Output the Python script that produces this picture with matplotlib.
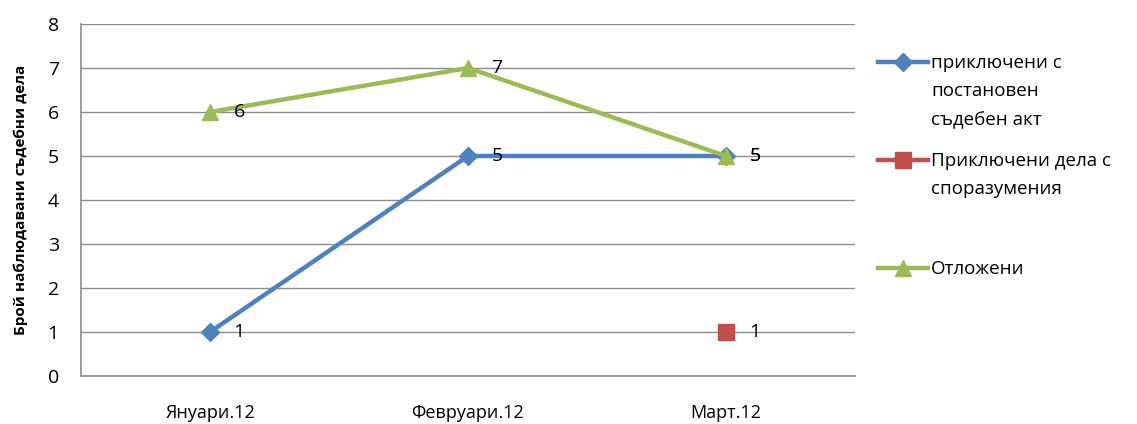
import numpy as np
import matplotlib
matplotlib.use("Agg")
import matplotlib.pyplot as plt
from matplotlib.lines import Line2D

plt.rcParams['font.family'] = ['Open Sans', 'DejaVu Sans']

# данни
months = ['Януари.12', 'Февруари.12', 'Март.12']
closed_act = [1, 5, 5]
closed_agreement = [np.nan, np.nan, 1]
postponed = [6, 7, 5]

series_names = ['приключени с\nпостановен\nсъдебен акт',
                'Приключени дела с\nспоразумения',
                'Отложени']

W, H = 1137, 424
fig = plt.figure(figsize=(W / 100, H / 100), dpi=100)
ax = fig.add_axes([81 / W, 48 / H, 774 / W, 352 / H])

x = np.arange(len(months))
styles = [('#4F81BD', 'D', 9), ('#C0504D', 's', 11), ('#9BBB59', '^', 11)]
all_vals = [closed_act, closed_agreement, postponed]
for vals, (c, m, ms) in zip(all_vals, styles):
    ax.plot(x, vals, color=c, lw=3.2, marker=m, ms=ms)

# етикети със стойностите
for vals in all_vals:
    for xi, v in zip(x, vals):
        if not np.isnan(v):
            ax.annotate(f'{int(v)}', (xi, v), xytext=(17, 0), textcoords='offset points',
                        ha='left', va='center', fontsize=14)

ax.set_xlim(-0.5, 2.5)
ax.set_ylim(0, 8)
ax.set_yticks(range(0, 9))
ax.set_xticks(x)
ax.set_xticklabels(months, fontsize=13)
ax.tick_params(axis='y', labelsize=14, length=0, pad=16)
ax.tick_params(axis='x', length=0, pad=20)
ax.grid(axis='y', color='#8c8c8c', lw=1)
ax.set_axisbelow(True)
for s in ('top', 'right'):
    ax.spines[s].set_visible(False)
for s in ('left', 'bottom'):
    ax.spines[s].set_color('#8c8c8c')
    ax.spines[s].set_linewidth(1.2)

ax.set_ylabel('Брой наблюдавани съдебни дела', fontsize=11, fontweight='bold', labelpad=14)

# легенда: маркерът е на нивото на първия ред от текста
legend_y = [62, 160, 268]
for name, (c, m, ms), ly in zip(series_names, styles, legend_y):
    yf = 1 - ly / H
    fig.add_artist(Line2D([878 / W, 928 / W], [yf, yf], color=c, lw=3.2,
                          transform=fig.transFigure))
    fig.add_artist(Line2D([903 / W], [yf], color=c, marker=m, ms=ms,
                          transform=fig.transFigure))
    fig.text(931 / W, yf + 8 / H, name, ha='left', va='top', fontsize=13.5,
             linespacing=1.75)

fig.savefig('out.png', dpi=100)
